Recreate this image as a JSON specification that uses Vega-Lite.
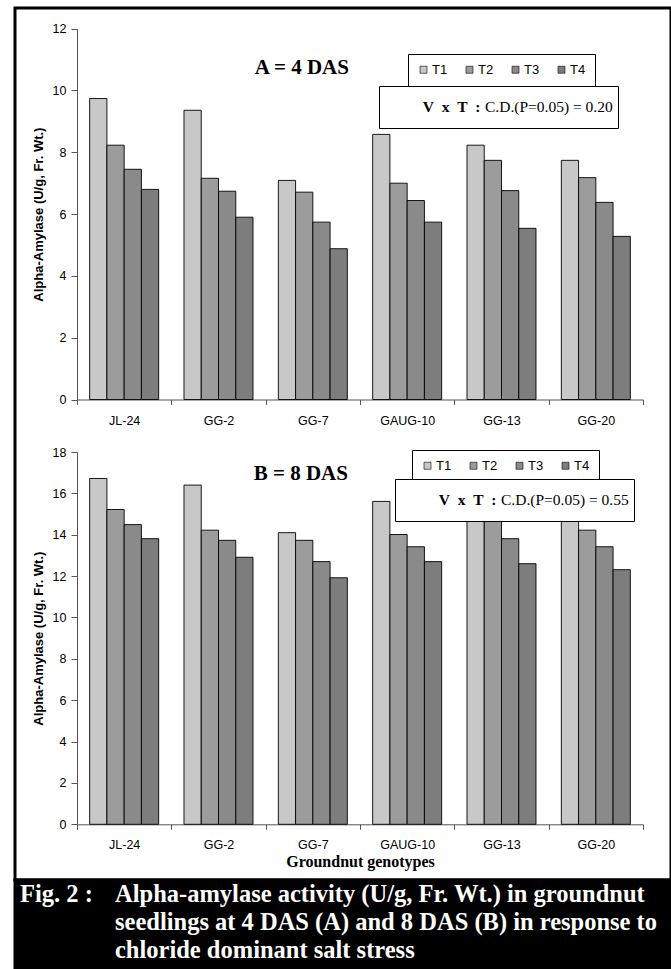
{
  "$schema": "https://vega.github.io/schema/vega-lite/v6.json",
  "padding": {"left": 13, "top": 6, "right": 2, "bottom": 0},
  "background": "white",
  "spacing": 0,
  "bounds": "flush",
  "datasets": {
    "das4": [
      {"g": "JL-24", "t": "T1", "v": 9.74}, {"g": "JL-24", "t": "T2", "v": 8.23}, {"g": "JL-24", "t": "T3", "v": 7.45}, {"g": "JL-24", "t": "T4", "v": 6.80},
      {"g": "GG-2", "t": "T1", "v": 9.36}, {"g": "GG-2", "t": "T2", "v": 7.16}, {"g": "GG-2", "t": "T3", "v": 6.74}, {"g": "GG-2", "t": "T4", "v": 5.90},
      {"g": "GG-7", "t": "T1", "v": 7.09}, {"g": "GG-7", "t": "T2", "v": 6.71}, {"g": "GG-7", "t": "T3", "v": 5.74}, {"g": "GG-7", "t": "T4", "v": 4.88},
      {"g": "GAUG-10", "t": "T1", "v": 8.58}, {"g": "GAUG-10", "t": "T2", "v": 7.00}, {"g": "GAUG-10", "t": "T3", "v": 6.44}, {"g": "GAUG-10", "t": "T4", "v": 5.74},
      {"g": "GG-13", "t": "T1", "v": 8.23}, {"g": "GG-13", "t": "T2", "v": 7.74}, {"g": "GG-13", "t": "T3", "v": 6.76}, {"g": "GG-13", "t": "T4", "v": 5.54},
      {"g": "GG-20", "t": "T1", "v": 7.74}, {"g": "GG-20", "t": "T2", "v": 7.18}, {"g": "GG-20", "t": "T3", "v": 6.38}, {"g": "GG-20", "t": "T4", "v": 5.28}
    ],
    "das8": [
      {"g": "JL-24", "t": "T1", "v": 16.72}, {"g": "JL-24", "t": "T2", "v": 15.22}, {"g": "JL-24", "t": "T3", "v": 14.49}, {"g": "JL-24", "t": "T4", "v": 13.81},
      {"g": "GG-2", "t": "T1", "v": 16.40}, {"g": "GG-2", "t": "T2", "v": 14.22}, {"g": "GG-2", "t": "T3", "v": 13.73}, {"g": "GG-2", "t": "T4", "v": 12.91},
      {"g": "GG-7", "t": "T1", "v": 14.10}, {"g": "GG-7", "t": "T2", "v": 13.73}, {"g": "GG-7", "t": "T3", "v": 12.70}, {"g": "GG-7", "t": "T4", "v": 11.92},
      {"g": "GAUG-10", "t": "T1", "v": 15.61}, {"g": "GAUG-10", "t": "T2", "v": 14.01}, {"g": "GAUG-10", "t": "T3", "v": 13.42}, {"g": "GAUG-10", "t": "T4", "v": 12.70},
      {"g": "GG-13", "t": "T1", "v": 15.22}, {"g": "GG-13", "t": "T2", "v": 14.72}, {"g": "GG-13", "t": "T3", "v": 13.81}, {"g": "GG-13", "t": "T4", "v": 12.60},
      {"g": "GG-20", "t": "T1", "v": 14.80}, {"g": "GG-20", "t": "T2", "v": 14.22}, {"g": "GG-20", "t": "T3", "v": 13.42}, {"g": "GG-20", "t": "T4", "v": 12.31}
    ],
    "caption": [
      {"line": 1, "part": "fig", "text": "Fig. 2 :"},
      {"line": 1, "part": "body", "text": "Alpha-amylase activity (U/g, Fr. Wt.) in groundnut"},
      {"line": 2, "part": "body", "text": "seedlings at 4 DAS (A) and 8 DAS (B) in response to"},
      {"line": 3, "part": "body", "text": "chloride dominant salt stress"}
    ]
  },
  "vconcat": [
    {
      "width": 656,
      "height": 872,
      "view": {"fill": "white", "stroke": "black", "strokeWidth": 3},
      "layer": [
        {
          "layer": [
            {
              "data": {"name": "das4"},
              "mark": {"type": "bar", "stroke": "black", "strokeWidth": 0.9},
              "encoding": {
                "x": {"field": "g", "type": "nominal", "sort": ["JL-24", "GG-2", "GG-7", "GAUG-10", "GG-13", "GG-20"],
                  "scale": {"range": [62, 628], "paddingInner": 0, "paddingOuter": 0},
                  "axis": {"orient": "bottom", "offset": -480.5, "tickBand": "extent", "tickSize": 5, "labelPadding": 9.5, "labelAngle": 0, "title": null}},
                "xOffset": {"field": "t", "type": "nominal", "scale": {"paddingInner": 0, "paddingOuter": 0.734}},
                "y": {"field": "v", "type": "quantitative",
                  "scale": {"domain": [0, 12], "range": [391.5, 20.7], "nice": false, "zero": true},
                  "axis": {"orient": "left", "offset": -62, "values": [0, 2, 4, 6, 8, 10, 12], "format": "d", "tickSize": 6, "labelPadding": 5, "titlePadding": 7, "title": "Alpha-Amylase (U/g, Fr. Wt.)"}},
                "color": {"field": "t", "type": "nominal",
                  "scale": {"domain": ["T1", "T2", "T3", "T4"], "range": ["#c8c8c8", "#9c9c9c", "#8a8a8a", "#7d7d7d"]},
                  "legend": {"orient": "none", "legendX": 393, "legendY": 46, "direction": "horizontal", "title": null,
                    "symbolType": "square", "symbolSize": 49, "symbolStrokeColor": "black", "symbolStrokeWidth": 0.6,
                    "labelFont": "Liberation Sans", "labelFontSize": 13, "labelColor": "black", "labelOffset": 2,
                    "strokeColor": "black", "fillColor": "white", "padding": 9, "columnPadding": 15}}
              }
            },
            {
              "data": {"values": [{"label": "A = 4 DAS"}]},
              "mark": {"type": "text", "font": "Liberation Serif", "fontWeight": "bold", "fontSize": 21, "color": "black", "baseline": "middle", "align": "center", "dx": -11},
              "encoding": {
                "x": {"datum": "GG-7"},
                "y": {"datum": 10.74},
                "text": {"field": "label"}
              }
            },
            {
              "data": {"values": [{"cd": "V x T :"}]},
              "mark": {"type": "point", "opacity": 0},
              "encoding": {
                "shape": {"field": "cd", "type": "nominal",
                  "legend": {"orient": "none", "legendX": 364, "legendY": 78,
                    "title": "C.D.(P=0.05) = 0.20", "titleOrient": "right", "titleAnchor": "middle", "titleBaseline": "middle",
                    "titleFont": "Liberation Serif", "titleFontWeight": "normal", "titleFontSize": 15.5, "titleColor": "black", "titlePadding": 5,
                    "labelFont": "Liberation Serif", "labelFontWeight": "bold", "labelFontSize": 15.5, "labelColor": "black", "labelOffset": 6.7,
                    "labelExpr": "replace(datum.label, / /g, '\u00a0\u00a0')",
                    "symbolSize": 1024, "symbolOpacity": 0, "symbolStrokeWidth": 0,
                    "strokeColor": "black", "fillColor": "white", "padding": 5}}
              }
            }
          ]
        },
        {
          "layer": [
            {
              "data": {"name": "das8"},
              "mark": {"type": "bar", "stroke": "black", "strokeWidth": 0.9},
              "encoding": {
                "x": {"field": "g", "type": "nominal", "sort": ["JL-24", "GG-2", "GG-7", "GAUG-10", "GG-13", "GG-20"],
                  "scale": {"range": [62, 628], "paddingInner": 0, "paddingOuter": 0},
                  "axis": {"orient": "bottom", "offset": -55.7, "tickBand": "extent", "tickSize": 5, "labelPadding": 9.5, "labelAngle": 0,
                    "title": "Groundnut genotypes", "titleFont": "Liberation Serif", "titleFontSize": 16, "titleFontWeight": "bold", "titlePadding": 2}},
                "xOffset": {"field": "t", "type": "nominal", "scale": {"paddingInner": 0, "paddingOuter": 0.734}},
                "y": {"field": "v", "type": "quantitative",
                  "scale": {"domain": [0, 18], "range": [816.3, 444], "nice": false, "zero": true},
                  "axis": {"orient": "left", "offset": -62, "values": [0, 2, 4, 6, 8, 10, 12, 14, 16, 18], "format": "d", "tickSize": 6, "labelPadding": 5, "titlePadding": 7, "title": "Alpha-Amylase (U/g, Fr. Wt.)"}},
                "color": {"field": "t", "type": "nominal",
                  "scale": {"domain": ["T1", "T2", "T3", "T4"], "range": ["#c8c8c8", "#9c9c9c", "#8a8a8a", "#7d7d7d"]},
                  "legend": {"orient": "none", "legendX": 397, "legendY": 442, "direction": "horizontal", "title": null,
                    "symbolType": "square", "symbolSize": 49, "symbolStrokeColor": "black", "symbolStrokeWidth": 0.6,
                    "labelFont": "Liberation Sans", "labelFontSize": 13, "labelColor": "black", "labelOffset": 2,
                    "strokeColor": "black", "fillColor": "white", "padding": 9, "columnPadding": 15}}
              }
            },
            {
              "data": {"values": [{"label": "B = 8 DAS"}]},
              "mark": {"type": "text", "font": "Liberation Serif", "fontWeight": "bold", "fontSize": 21, "color": "black", "baseline": "middle", "align": "center", "dx": -12},
              "encoding": {
                "x": {"datum": "GG-7"},
                "y": {"datum": 16.92},
                "text": {"field": "label"}
              }
            },
            {
              "data": {"values": [{"cd": "V x T :"}]},
              "mark": {"type": "point", "opacity": 0},
              "encoding": {
                "shape": {"field": "cd", "type": "nominal",
                  "legend": {"orient": "none", "legendX": 380, "legendY": 471,
                    "title": "C.D.(P=0.05) = 0.55", "titleOrient": "right", "titleAnchor": "middle", "titleBaseline": "middle",
                    "titleFont": "Liberation Serif", "titleFontWeight": "normal", "titleFontSize": 15.5, "titleColor": "black", "titlePadding": 5,
                    "labelFont": "Liberation Serif", "labelFontWeight": "bold", "labelFontSize": 15.5, "labelColor": "black", "labelOffset": 6.7,
                    "labelExpr": "replace(datum.label, / /g, '\u00a0\u00a0')",
                    "symbolSize": 1024, "symbolOpacity": 0, "symbolStrokeWidth": 0,
                    "strokeColor": "black", "fillColor": "white", "padding": 5}}
              }
            }
          ]
        }
      ],
      "resolve": {
        "scale": {"x": "independent", "y": "independent", "xOffset": "independent", "color": "independent", "shape": "independent"},
        "axis": {"x": "independent", "y": "independent"},
        "legend": {"color": "independent", "shape": "independent"}
      }
    },
    {
      "width": 656,
      "height": 91,
      "view": {"fill": "black", "stroke": "black", "strokeWidth": 3},
      "data": {"name": "caption"},
      "mark": {"type": "text", "font": "Liberation Serif", "fontWeight": "bold", "fontSize": 24.5, "color": "white", "align": "left", "baseline": "middle"},
      "encoding": {
        "x": {"field": "part", "type": "nominal", "scale": {"type": "point", "domain": ["fig", "body"], "range": [5, 100], "padding": 0}, "axis": null},
        "y": {"field": "line", "type": "ordinal", "scale": {"type": "point", "domain": [1, 2, 3], "range": [15, 71], "padding": 0}, "axis": null},
        "text": {"field": "text"}
      }
    }
  ],
  "config": {
    "view": {"stroke": null},
    "axis": {
      "labelFont": "Liberation Sans", "labelFontSize": 12.5, "labelColor": "black",
      "domainColor": "#555555", "tickColor": "#555555", "grid": false,
      "titleFont": "Liberation Sans", "titleFontWeight": "bold", "titleFontSize": 13, "titleColor": "black"
    }
  }
}
